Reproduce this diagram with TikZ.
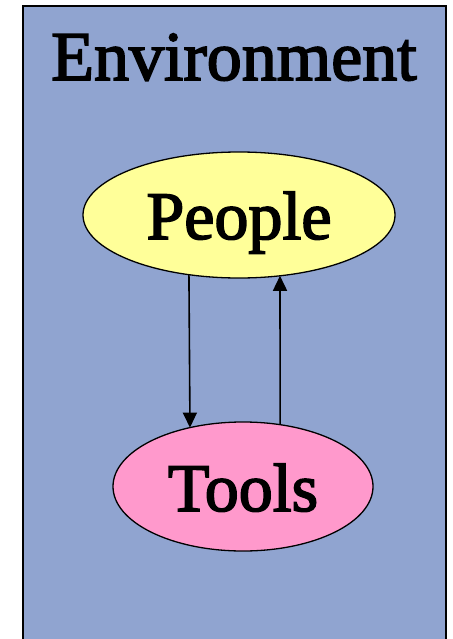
\documentclass[tikz,border=0pt]{standalone}
\usepackage{fontspec}
\setmainfont{Liberation Serif}
\newfontfamily\heavyserif[BoldFont={Liberation Serif},BoldFeatures={FakeBold=2.4}]{Liberation Serif}
\usepackage{tikz}
\usetikzlibrary{arrows.meta,shapes.geometric}
\definecolor{envblue}{RGB}{144,164,208}
\definecolor{peopleyellow}{RGB}{255,255,153}
\definecolor{toolspink}{RGB}{255,153,204}

\begin{document}
\begin{tikzpicture}[x=1pt,y=-1pt,
  bubble/.style={ellipse,draw,line width=1.3pt,inner sep=0pt,outer sep=0pt},
  lbl/.style={anchor=base,font=\heavyserif\bfseries\fontsize{68}{80}\selectfont},
  arr/.style={-{Triangle[length=15pt,width=14pt]},line width=1.6pt}]
\useasboundingbox (0,0) rectangle (452,639);
\begin{scope}
\clip (0,0) rectangle (452,639);
\draw[fill=envblue,line width=1.5pt] (23,6) rectangle (446,660);
\end{scope}
\node[lbl,font=\heavyserif\bfseries\fontsize{70}{82}\selectfont] (env) at (234,80) {Environment};
\node[bubble,fill=peopleyellow,minimum width=312pt,minimum height=126pt] (people) at (239,215) {};
\node[lbl] (peoplelbl) at (239,239) {People};
\node[bubble,fill=toolspink,minimum width=260pt,minimum height=129pt] (tools) at (243,486.5) {};
\node[lbl] (toolslbl) at (243,511) {Tools};
\draw[arr] (people.230.7)--(tools.132);
\draw[arr] (tools.59.1)--(people.304);
\end{tikzpicture}
\end{document}
